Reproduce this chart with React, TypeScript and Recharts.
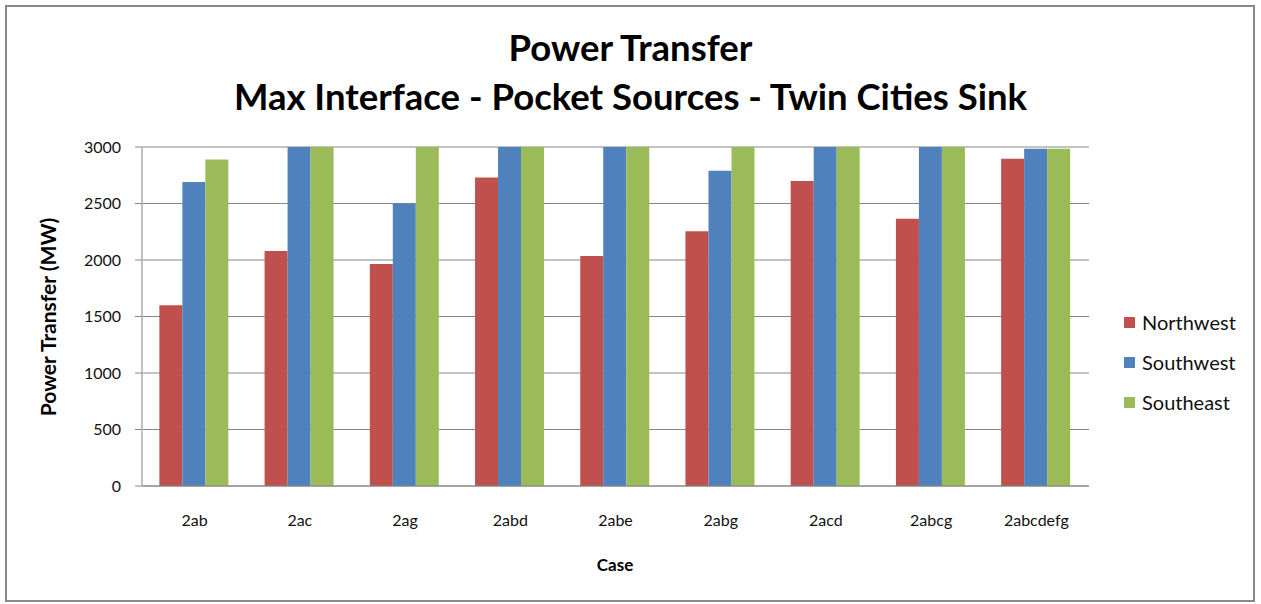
import React from "react";
import { BarChart, Bar, XAxis, YAxis, CartesianGrid } from "recharts";

const categories = ["2ab", "2ac", "2ag", "2abd", "2abe", "2abg", "2acd", "2abcg", "2abcdefg"];
const northwest = [1600, 2080, 1965, 2730, 2035, 2255, 2700, 2365, 2895];
const southwest = [2690, 3000, 2500, 3000, 3000, 2790, 3000, 3000, 2985];
const southeast = [2890, 3000, 3000, 3000, 3000, 3000, 3000, 3000, 2985];
const yTicks = [0, 500, 1000, 1500, 2000, 2500, 3000];

const seriesNames = ["Northwest", "Southwest", "Southeast"];
const seriesKeys = ["nw", "sw", "se"];
const seriesColors = ["#C0504D", "#4F81BD", "#9BBB59"];

const data = categories.map((c, i) => ({
  name: c,
  nw: northwest[i],
  sw: southwest[i],
  se: southeast[i],
}));

const FONT = "Lato, 'Liberation Sans', sans-serif";

export default function App() {
  return (
    <div style={{ position: "absolute", left: 0, top: 0, width: 1261, height: 604, background: "#fff", fontFamily: FONT }}>
      <div
        style={{
          position: "absolute",
          left: 5,
          top: 5,
          width: 1250,
          height: 597,
          border: "2px solid #898989",
          boxSizing: "border-box",
        }}
      />
      <div style={{ position: "absolute", left: 0, top: 28, width: 1261, textAlign: "center", fontSize: 36.5, fontWeight: 700, lineHeight: "38px", color: "#000" }}>
        Power Transfer
      </div>
      <div style={{ position: "absolute", left: 0, top: 77, width: 1261, textAlign: "center", fontSize: 36.5, fontWeight: 700, lineHeight: "38px", color: "#000" }}>
        Max Interface - Pocket Sources - Twin Cities Sink
      </div>
      <div
        style={{
          position: "absolute",
          left: 47,
          top: 317,
          transform: "translate(-50%, -50%) rotate(-90deg)",
          whiteSpace: "nowrap",
          fontSize: 21,
          fontWeight: 700,
          color: "#000",
        }}
      >
        Power Transfer (MW)
      </div>
      <div
        style={{
          position: "absolute",
          left: 615,
          top: 564,
          transform: "translate(-50%, -50%)",
          whiteSpace: "nowrap",
          fontSize: 17,
          fontWeight: 700,
          color: "#000",
        }}
      >
        Case
      </div>
      {seriesNames.map((n, i) => (
        <div key={n} style={{ position: "absolute", left: 1124, top: 311 + i * 40, height: 22, display: "flex", alignItems: "center" }}>
          <div style={{ width: 11, height: 11, background: seriesColors[i], marginRight: 7 }} />
          <span style={{ fontSize: 20, color: "#111", lineHeight: "22px" }}>{n}</span>
        </div>
      ))}
      <div style={{ position: "absolute", left: 0, top: 0 }}>
        <BarChart
          width={1261}
          height={604}
          data={data}
          margin={{ top: 147, right: 172, left: 82, bottom: 78 }}
          barCategoryGap="16.5%"
          barGap={0}
        >
          <CartesianGrid vertical={false} stroke="#868686" strokeWidth={1} />
          <XAxis
            dataKey="name"
            height={40}
            tickLine={false}
            tickSize={0}
            tickMargin={29}
            axisLine={{ stroke: "#868686" }}
            tick={{ fontSize: 16, fill: "#111", fontFamily: FONT }}
            interval={0}
          />
          <YAxis
            width={60}
            domain={[0, 3000]}
            ticks={yTicks}
            tickSize={7}
            tickMargin={14}
            allowDataOverflow
            axisLine={{ stroke: "#BFBFBF", strokeWidth: 2 }}
            tickLine={{ stroke: "#868686" }}
            tick={{ fontSize: 16, fill: "#111", fontFamily: FONT }}
          />
          {seriesKeys.map((k, i) => (
            <Bar key={k} dataKey={k} name={seriesNames[i]} fill={seriesColors[i]} isAnimationActive={false} />
          ))}
        </BarChart>
      </div>
    </div>
  );
}
